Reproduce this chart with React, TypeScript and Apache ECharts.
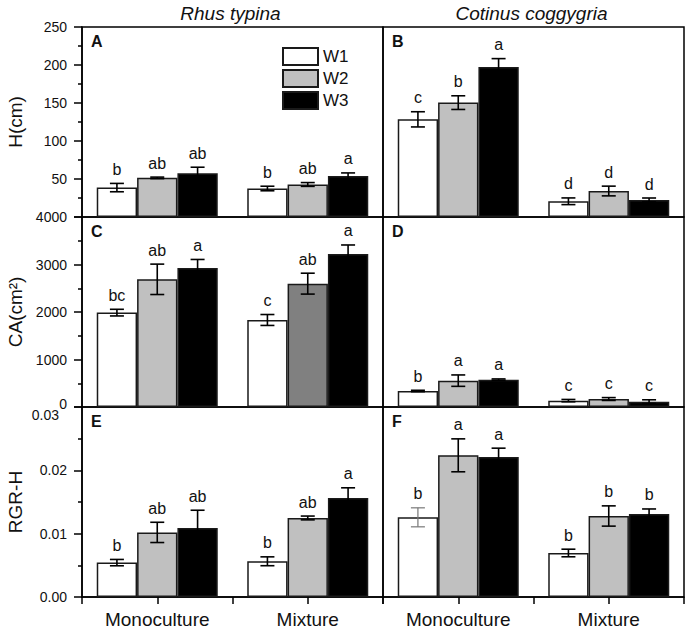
import React, { useEffect, useRef } from "react";
import * as echarts from "echarts";

const FONT = "Liberation Sans, Arial, sans-serif";

const categories = ["Monoculture", "Mixture"];
const seriesNames = ["W1", "W2", "W3"];
const seriesColors = ["#ffffff", "#c0c0c0", "#000000"];

// [W1, W2, W3] x [Monoculture, Mixture]
const A_mean = [[38.7, 37.5], [51.5, 42.8], [57.5, 54.0]];
const A_err = [[5.5, 3.0], [1.0, 2.5], [8.0, 4.0]];
const A_letters = [["b", "b"], ["ab", "ab"], ["ab", "a"]];

const B_mean = [[128.5, 20.7], [150.5, 34.2], [197.4, 22.4]];
const B_err = [[10, 4.4], [9, 6.4], [11, 2.6]];
const B_letters = [["c", "d"], ["b", "d"], ["a", "d"]];

const C_mean = [[1987, 1832], [2688, 2597], [2926, 3221]];
const C_err = [[70, 115], [320, 220], [180, 190]];
const C_letters = [["bc", "c"], ["ab", "ab"], ["a", "a"]];

const D_mean = [[337, 134], [555, 168], [576, 112]];
const D_err = [[15, 25], [120, 30], [15, 40]];
const D_letters = [["b", "c"], ["a", "c"], ["a", "c"]];

const E_mean = [[0.00543, 0.00564], [0.0102, 0.01248], [0.0109, 0.01564]];
const E_err = [[0.0005, 0.0007], [0.0016, 0.0003], [0.0028, 0.0016]];
const E_letters = [["b", "b"], ["ab", "ab"], ["ab", "a"]];

const F_mean = [[0.01258, 0.00695], [0.02237, 0.01279], [0.0221, 0.0131]];
const F_err = [[0.0015, 0.0006], [0.0026, 0.0016], [0.0014, 0.0008]];
const F_letters = [["b", "b"], ["a", "b"], ["a", "b"]];

const H_ticks = [0, 250, 50];
const CA_ticks = [0, 4000, 1000];
const RGR_ticks = [0, 0.03, 0.01];

const panelLetters = ["A", "B", "C", "D", "E", "F"];
const speciesTitles = ["Rhus typina", "Cotinus coggygria"];
const yNames = ["H(cm)", "CA(cm\u00B2)", "RGR-H"];

const BAR_FRAC = 0.268;

export default function App() {
  const ref = useRef<HTMLDivElement>(null);
  useEffect(() => {
    if (!ref.current) return;
    const chart = echarts.init(ref.current, null, { renderer: "svg" });

    const panels = [
      { mean: A_mean, err: A_err, letters: A_letters, ticks: H_ticks },
      { mean: B_mean, err: B_err, letters: B_letters, ticks: H_ticks },
      { mean: C_mean, err: C_err, letters: C_letters, ticks: CA_ticks },
      { mean: D_mean, err: D_err, letters: D_letters, ticks: CA_ticks },
      { mean: E_mean, err: E_err, letters: E_letters, ticks: RGR_ticks },
      { mean: F_mean, err: F_err, letters: F_letters, ticks: RGR_ticks },
    ];

    const colLeft = [82, 383];
    const rowTop = [27, 217, 407];
    const W = 301;
    const H = 190;

    const grids: any[] = [];
    const xAxes: any[] = [];
    const yAxes: any[] = [];
    const series: any[] = [];
    const graphics: any[] = [];

    panels.forEach((p, g) => {
      const row = Math.floor(g / 2);
      const col = g % 2;
      grids.push({
        left: colLeft[col],
        top: rowTop[row],
        width: W,
        height: H,
        show: true,
        borderColor: "#000",
        borderWidth: 1.5,
        backgroundColor: "transparent",
      });
      const isBottom = row === 2;
      const mainX = xAxes.length;
      xAxes.push({
        type: "category",
        gridIndex: g,
        data: categories,
        position: "bottom",
        axisLine: { show: isBottom, lineStyle: { color: "#000", width: 1.5 } },
        axisTick: { show: false },
        axisLabel: {
          show: isBottom,
          fontSize: 19,
          fontFamily: FONT,
          color: "#111",
          margin: 13,
        },
        splitLine: { show: false },
      });
      if (isBottom) {
        xAxes.push({
          type: "category",
          gridIndex: g,
          data: ["a", "b", "c", "d"],
          position: "bottom",
          axisLine: { show: false },
          axisTick: { show: true, interval: 0, length: 7, lineStyle: { color: "#000", width: 1.5 } },
          axisLabel: { show: false },
          splitLine: { show: false },
        });
      }
      const [mn, mx, iv] = p.ticks;
      const isRGR = row === 2;
      const isCA = row === 1;
      yAxes.push({
        type: "value",
        gridIndex: g,
        min: mn,
        max: mx,
        interval: iv,
        show: col === 0,
        name: col === 0 ? yNames[row] : "",
        nameLocation: "middle",
        nameGap: 57,
        nameTextStyle: { fontSize: 19, fontFamily: FONT, color: "#111" },
        axisLine: { show: true, lineStyle: { color: "#000", width: 1.5 } },
        axisTick: { show: true, length: 8, lineStyle: { color: "#000", width: 1.5 } },
        minorTick: { show: true, splitNumber: 2, length: 4, lineStyle: { color: "#000", width: 1.5 } },
        splitLine: { show: false },
        minorSplitLine: { show: false },
        axisLabel: {
          fontSize: 14,
          fontFamily: FONT,
          color: "#111",
          margin: 15,
          formatter: (v: number) => {
            if (isRGR) {
              if (Math.abs(v - 0.03) < 1e-9) return "{low|0.03}";
              return v.toFixed(2);
            }
            if (isCA) {
              if (v === 0) return "{up|0}";
              return String(v);
            }
            if (v === 0) return "";
            return String(v);
          },
          rich: {
            low: { fontSize: 14, fontFamily: FONT, color: "#111", padding: [16, 8, 0, 0] },
            up: { fontSize: 14, fontFamily: FONT, color: "#111", padding: [0, 0, 6, 0] },
          },
        },
      });

      for (let s = 0; s < 3; s++) {
        series.push({
          type: "bar",
          name: seriesNames[s],
          xAxisIndex: mainX,
          yAxisIndex: g,
          barWidth: BAR_FRAC * 100 + "%",
          barGap: "0%",
          itemStyle: { color: seriesColors[s], borderColor: "#1a1a1a", borderWidth: 1.5 },
          data: p.mean[s].map((v, c) => {
            if (g === 2 && s === 1 && c === 1) {
              return { value: v, itemStyle: { color: "#808080" } };
            }
            return v;
          }),
        });
      }

      const eData: any[] = [];
      const eLetters: string[] = [];
      for (let s = 0; s < 3; s++) {
        for (let c = 0; c < 2; c++) {
          eData.push([c, s, p.mean[s][c], p.err[s][c]]);
          eLetters.push(p.letters[s][c]);
        }
      }
      const grayW1 = g === 5;
      series.push({
        type: "custom",
        xAxisIndex: mainX,
        yAxisIndex: g,
        data: eData,
        z: 5,
        renderItem: (params: any, api: any) => {
          const c = api.value(0);
          const s = api.value(1);
          const m = api.value(2);
          const e = api.value(3);
          const base = api.coord([c, m]);
          const band = api.size([1, 0])[0];
          const bw = band * BAR_FRAC;
          const x = base[0] + (s - 1) * bw;
          const yTop = api.coord([c, m + e])[1];
          const yBot = api.coord([c, m - e])[1];
          const cap = 7;
          const special = grayW1 && s === 0 && c === 0;
          const st = { stroke: special ? "#777" : "#000", lineWidth: special ? 1.2 : 1.6 };
          return {
            type: "group",
            children: [
              { type: "line", shape: { x1: x, y1: yTop, x2: x, y2: yBot }, style: st },
              { type: "line", shape: { x1: x - cap, y1: yTop, x2: x + cap, y2: yTop }, style: st },
              { type: "line", shape: { x1: x - cap, y1: yBot, x2: x + cap, y2: yBot }, style: st },
              {
                type: "text",
                style: {
                  text: eLetters[params.dataIndex],
                  x: x,
                  y: yTop - 6,
                  textAlign: "center",
                  textVerticalAlign: "bottom",
                  fontSize: 16,
                  fontFamily: FONT,
                  fill: "#111",
                },
              },
            ],
          };
        },
      });

      graphics.push({
        type: "text",
        left: colLeft[col] + 9,
        top: rowTop[row] + 6,
        style: {
          text: panelLetters[g],
          fontSize: 16,
          fontWeight: "bold",
          fontFamily: FONT,
          fill: "#111",
        },
      });
    });

    speciesTitles.forEach((t, i) => {
      graphics.push({
        type: "text",
        x: colLeft[i] + W / 2 - 2,
        y: 13,
        style: {
          text: t,
          fontSize: 19,
          fontStyle: "italic",
          fontFamily: FONT,
          fill: "#111",
          textAlign: "center",
          textVerticalAlign: "middle",
        },
      });
    });

    chart.setOption({
      animation: false,
      backgroundColor: "#fff",
      grid: grids,
      xAxis: xAxes,
      yAxis: yAxes,
      series,
      graphic: graphics,
      legend: {
        data: seriesNames,
        orient: "vertical",
        left: 282,
        top: 47,
        padding: 0,
        itemWidth: 35,
        itemHeight: 17,
        itemGap: 3,
        icon: "rect",
        textStyle: { fontSize: 17, fontFamily: FONT, color: "#111" },
      },
    });
    return () => chart.dispose();
  }, []);
  return (
    <div
      ref={ref}
      style={{ position: "fixed", left: 0, top: 0, width: 685, height: 629 }}
    />
  );
}
